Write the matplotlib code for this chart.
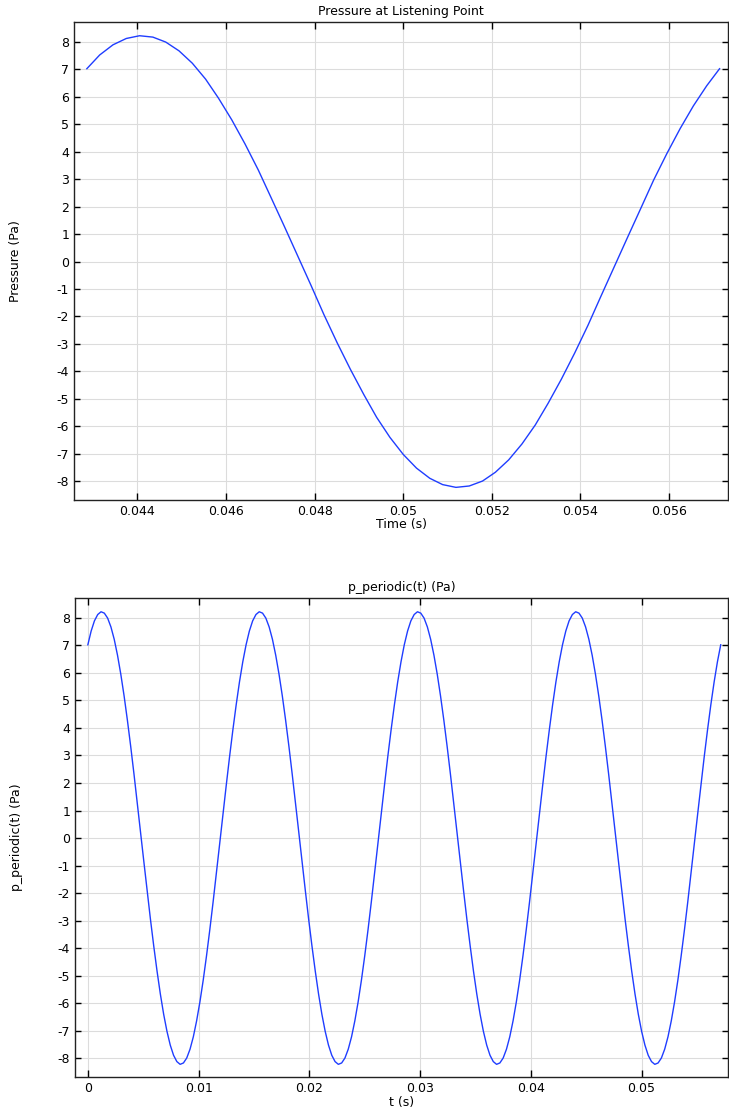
import matplotlib
matplotlib.use("Agg")
import matplotlib.pyplot as plt
from matplotlib.ticker import FuncFormatter, MultipleLocator

# pressure at listening point, one period (s, Pa)
t_top = [0.04286, 0.04315, 0.04345, 0.04375, 0.04405, 0.04435, 0.04464, 0.04494,
         0.04524, 0.04554, 0.04583, 0.04613, 0.04643, 0.04673, 0.04702, 0.04732,
         0.04762, 0.04792, 0.04821, 0.04851, 0.04881, 0.04911, 0.04940, 0.04970,
         0.05000, 0.05030, 0.05060, 0.05089, 0.05119, 0.05149, 0.05179, 0.05208,
         0.05238, 0.05268, 0.05298, 0.05327, 0.05357, 0.05387, 0.05417, 0.05446,
         0.05476, 0.05506, 0.05536, 0.05565, 0.05595, 0.05625, 0.05655, 0.05685,
         0.05714]
p_top = [7.02, 7.52, 7.89, 8.12, 8.22, 8.17, 7.99, 7.67,
         7.22, 6.64, 5.95, 5.16, 4.28, 3.33, 2.32, 1.27,
         0.20, -0.87, -1.93, -2.96, -3.93, -4.84, -5.67, -6.40,
         -7.02, -7.52, -7.89, -8.12, -8.22, -8.17, -7.99, -7.67,
         -7.22, -6.64, -5.95, -5.16, -4.28, -3.33, -2.32, -1.27,
         -0.20, 0.87, 1.93, 2.96, 3.93, 4.84, 5.67, 6.40,
         7.02]

# periodic extension over four periods
t_per = [0.0, 0.000298, 0.000595, 0.000893, 0.00119, 0.001488, 0.001786, 0.002083,
         0.002381, 0.002679, 0.002976, 0.003274, 0.003571, 0.003869, 0.004167, 0.004464,
         0.004762, 0.00506, 0.005357, 0.005655, 0.005952, 0.00625, 0.006548, 0.006845,
         0.007143, 0.00744, 0.007738, 0.008036, 0.008333, 0.008631, 0.008929, 0.009226,
         0.009524, 0.009821, 0.010119, 0.010417, 0.010714, 0.011012, 0.01131, 0.011607,
         0.011905, 0.012202, 0.0125, 0.012798, 0.013095, 0.013393, 0.01369, 0.013988,
         0.014286, 0.014583, 0.014881, 0.015179, 0.015476, 0.015774, 0.016071, 0.016369,
         0.016667, 0.016964, 0.017262, 0.01756, 0.017857, 0.018155, 0.018452, 0.01875,
         0.019048, 0.019345, 0.019643, 0.01994, 0.020238, 0.020536, 0.020833, 0.021131,
         0.021429, 0.021726, 0.022024, 0.022321, 0.022619, 0.022917, 0.023214, 0.023512,
         0.02381, 0.024107, 0.024405, 0.024702, 0.025, 0.025298, 0.025595, 0.025893,
         0.02619, 0.026488, 0.026786, 0.027083, 0.027381, 0.027679, 0.027976, 0.028274,
         0.028571, 0.028869, 0.029167, 0.029464, 0.029762, 0.03006, 0.030357, 0.030655,
         0.030952, 0.03125, 0.031548, 0.031845, 0.032143, 0.03244, 0.032738, 0.033036,
         0.033333, 0.033631, 0.033929, 0.034226, 0.034524, 0.034821, 0.035119, 0.035417,
         0.035714, 0.036012, 0.03631, 0.036607, 0.036905, 0.037202, 0.0375, 0.037798,
         0.038095, 0.038393, 0.03869, 0.038988, 0.039286, 0.039583, 0.039881, 0.040179,
         0.040476, 0.040774, 0.041071, 0.041369, 0.041667, 0.041964, 0.042262, 0.04256,
         0.042857, 0.043155, 0.043452, 0.04375, 0.044048, 0.044345, 0.044643, 0.04494,
         0.045238, 0.045536, 0.045833, 0.046131, 0.046429, 0.046726, 0.047024, 0.047321,
         0.047619, 0.047917, 0.048214, 0.048512, 0.04881, 0.049107, 0.049405, 0.049702,
         0.05, 0.050298, 0.050595, 0.050893, 0.05119, 0.051488, 0.051786, 0.052083,
         0.052381, 0.052679, 0.052976, 0.053274, 0.053571, 0.053869, 0.054167, 0.054464,
         0.054762, 0.05506, 0.055357, 0.055655, 0.055952, 0.05625, 0.056548, 0.056845,
         0.057143]
p_per = [7.02, 7.52, 7.89, 8.12, 8.22, 8.17, 7.99, 7.67, 7.22, 6.64, 5.95, 5.16,
         4.28, 3.33, 2.32, 1.27, 0.20, -0.87, -1.93, -2.96, -3.93, -4.84, -5.67, -6.40,
         -7.02, -7.52, -7.89, -8.12, -8.22, -8.17, -7.99, -7.67, -7.22, -6.64, -5.95, -5.16,
         -4.28, -3.33, -2.32, -1.27, -0.20, 0.87, 1.93, 2.96, 3.93, 4.84, 5.67, 6.40,
         7.02, 7.52, 7.89, 8.12, 8.22, 8.17, 7.99, 7.67, 7.22, 6.64, 5.95, 5.16,
         4.28, 3.33, 2.32, 1.27, 0.20, -0.87, -1.93, -2.96, -3.93, -4.84, -5.67, -6.40,
         -7.02, -7.52, -7.89, -8.12, -8.22, -8.17, -7.99, -7.67, -7.22, -6.64, -5.95, -5.16,
         -4.28, -3.33, -2.32, -1.27, -0.20, 0.87, 1.93, 2.96, 3.93, 4.84, 5.67, 6.40,
         7.02, 7.52, 7.89, 8.12, 8.22, 8.17, 7.99, 7.67, 7.22, 6.64, 5.95, 5.16,
         4.28, 3.33, 2.32, 1.27, 0.20, -0.87, -1.93, -2.96, -3.93, -4.84, -5.67, -6.40,
         -7.02, -7.52, -7.89, -8.12, -8.22, -8.17, -7.99, -7.67, -7.22, -6.64, -5.95, -5.16,
         -4.28, -3.33, -2.32, -1.27, -0.20, 0.87, 1.93, 2.96, 3.93, 4.84, 5.67, 6.40,
         7.02, 7.52, 7.89, 8.12, 8.22, 8.17, 7.99, 7.67, 7.22, 6.64, 5.95, 5.16,
         4.28, 3.33, 2.32, 1.27, 0.20, -0.87, -1.93, -2.96, -3.93, -4.84, -5.67, -6.40,
         -7.02, -7.52, -7.89, -8.12, -8.22, -8.17, -7.99, -7.67, -7.22, -6.64, -5.95, -5.16,
         -4.28, -3.33, -2.32, -1.27, -0.20, 0.87, 1.93, 2.96, 3.93, 4.84, 5.67, 6.40,
         7.02]

plt.rcParams["font.family"] = "DejaVu Sans"
plt.rcParams["axes.unicode_minus"] = False

LINE = "#1f3dff"
GRID = "#dcdcdc"


def style_axes(ax, xstep):
    ax.grid(True, color=GRID, linewidth=0.8)
    ax.set_axisbelow(True)
    ax.yaxis.set_major_locator(MultipleLocator(1))
    ax.xaxis.set_major_locator(MultipleLocator(xstep))
    ax.xaxis.set_major_formatter(FuncFormatter(lambda v, p: "%g" % round(v, 6)))
    ax.tick_params(direction="in", top=True, right=True, labelsize=9,
                   length=5, width=1, colors="black")
    ax.tick_params(axis="y", which="major", right=True, length=4)
    for s in ax.spines.values():
        s.set_color("#222222")
        s.set_linewidth(1.0)
    ax.set_ylim(-8.68, 8.72)


fig = plt.figure(figsize=(7.29, 11.12), dpi=100)

ax1 = fig.add_axes([74 / 729, 1 - 500 / 1112, 654 / 729, 478 / 1112])
ax1.plot(t_top, p_top, color=LINE, linewidth=1.0)
ax1.set_xlim(0.04257, 0.05733)
style_axes(ax1, 0.002)
ax1.set_title("Pressure at Listening Point", fontsize=9, pad=5)
ax1.set_xlabel("Time (s)", fontsize=9, labelpad=0)
ax1.set_ylabel("Pressure (Pa)", fontsize=9)
ax1.yaxis.set_label_coords(-0.08, 0.5)

ax2 = fig.add_axes([75 / 729, 1 - 1077 / 1112, 653 / 729, 479 / 1112])
ax2.plot(t_per, p_per, color=LINE, linewidth=1.0)
ax2.set_xlim(-0.00116, 0.0578)
style_axes(ax2, 0.01)
ax2.set_title("p_periodic(t) (Pa)", fontsize=9, pad=5)
ax2.set_xlabel("t (s)", fontsize=9, labelpad=0.5)
ax2.set_ylabel("p_periodic(t) (Pa)", fontsize=9)
ax2.yaxis.set_label_coords(-0.08, 0.5)

fig.savefig("out.png", dpi=100)
